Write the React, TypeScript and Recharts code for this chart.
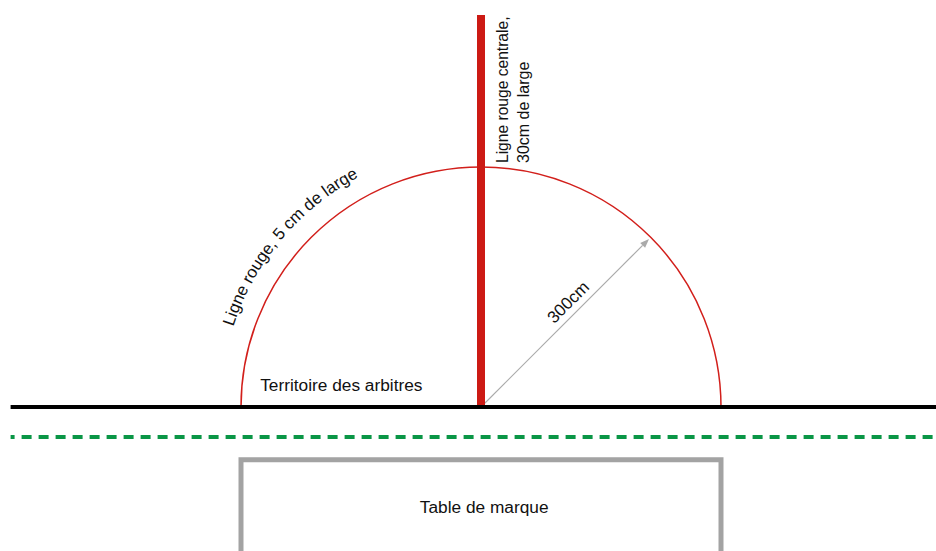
import React from "react";
import {
  ComposedChart,
  Line,
  XAxis,
  YAxis,
  ReferenceLine,
  ReferenceDot,
} from "recharts";

// all values in cm, origin = foot of the centre line
const sideline = [
  { x: -588, y: 0 },
  { x: 569, y: 0 },
];
const dashedLine = [
  { x: -588, y: -37.5 },
  { x: 569, y: -37.5 },
];
const tableOutline = [
  { x: -300, y: -240 },
  { x: -300, y: -66 },
  { x: 300, y: -66 },
  { x: 300, y: -240 },
];
const centreLine = [
  { x: 0, y: 0 },
  { x: 0, y: 490 },
];
const radius = 300;
const arrowEnd = { x: 210, y: 210 };

const labels = [
  { x: 34, y: 305, text: "Ligne rouge centrale,", angle: -90, anchor: "start", size: 15.6 },
  { x: 60, y: 305, text: "30cm de large", angle: -90, anchor: "start", size: 16 },
  { x: -276, y: 20, text: "Territoire des arbitres", angle: 0, anchor: "start", size: 17.3 },
  { x: 4, y: -132, text: "Table de marque", angle: 0, anchor: "middle", size: 17.3 },
  { x: 114, y: 126, text: "300cm", angle: -45, anchor: "middle", size: 17 },
];
const arcLabel = "Ligne rouge, 5 cm de large";

const FONT = "'Liberation Sans', Arial, Helvetica, sans-serif";

function SemiCircle(props: any) {
  const { x1, y1, x2 } = props;
  const r = (x2 - x1) / 2;
  const cx = x1 + r;
  const cy = y1;
  // text baseline sits a bit outside the arc
  const rt = r * 1.085;
  const a0 = (162 * Math.PI) / 180;
  const a1 = (45 * Math.PI) / 180;
  const sx = cx + rt * Math.cos(a0);
  const sy = cy - rt * Math.sin(a0);
  const ex = cx + rt * Math.cos(a1);
  const ey = cy - rt * Math.sin(a1);
  return (
    <g>
      <path
        d={`M ${x1} ${y1} A ${r} ${r} 0 0 1 ${x2} ${y1}`}
        fill="none"
        stroke="#d21f1b"
        strokeWidth={1.5}
      />
      <path
        id="arcText"
        d={`M ${sx} ${sy} A ${rt} ${rt} 0 0 1 ${ex} ${ey}`}
        fill="none"
        stroke="none"
      />
      <text fontFamily={FONT} fontSize={16.8} fill="#111">
        <textPath href="#arcText">{arcLabel}</textPath>
      </text>
    </g>
  );
}

function Arrow(props: any) {
  const { x1, y1, x2, y2 } = props;
  const ang = Math.atan2(y2 - y1, x2 - x1);
  const len = 9;
  const w = 3.5;
  const bx = x2 - len * Math.cos(ang);
  const by = y2 - len * Math.sin(ang);
  const px = -Math.sin(ang) * w;
  const py = Math.cos(ang) * w;
  return (
    <g>
      <line x1={x1} y1={y1} x2={bx} y2={by} stroke="#aaaaaa" strokeWidth={1.2} />
      <polygon
        points={`${x2},${y2} ${bx + px},${by + py} ${bx - px},${by - py}`}
        fill="#aaaaaa"
      />
    </g>
  );
}

export default function App() {
  return (
    <div style={{ position: "absolute", left: 0, top: 0, background: "#fff" }}>
      <ComposedChart
        width={936}
        height={551}
        margin={{ top: 0, right: 0, bottom: 0, left: 0 }}
      >
        <XAxis
          type="number"
          dataKey="x"
          domain={[-601.25, 568.75]}
          allowDataOverflow
          hide
        />
        <YAxis
          type="number"
          dataKey="y"
          domain={[-180, 508.75]}
          allowDataOverflow
          hide
        />

        <Line
          data={tableOutline}
          dataKey="y"
          type="linear"
          stroke="#a3a3a3"
          strokeWidth={5}
          strokeLinejoin="miter"
          dot={false}
          activeDot={false}
          isAnimationActive={false}
        />
        <Line
          data={dashedLine}
          dataKey="y"
          type="linear"
          stroke="#0a9646"
          strokeWidth={4}
          strokeDasharray="4 7 10 7 10 7 10 7 10 7 10 7 10 7 10 7 10 7 10 7 10 7 10 7 10 7 10 7 10 7 10 7 10 7 10 7 10 7 10 7 10 7 10 7 10 7 10 7 10 7 10 7 10 7 10 7 10 7 10 7 10 7 10 7 10 7 10 7 10 7 10 7 10 7 10 7 10 7 10 7 10 7 10 7 10 7 10 7 10 7 10 7 10 7 10 7 10 7 10 7 10 7 10 7 10 7 10 7 10 7"
          dot={false}
          activeDot={false}
          isAnimationActive={false}
        />

        <ReferenceLine
          segment={[
            { x: -radius, y: 0 },
            { x: radius, y: 0 },
          ]}
          ifOverflow="visible"
          shape={SemiCircle}
        />
        <ReferenceLine
          segment={[{ x: 0, y: 0 }, arrowEnd]}
          ifOverflow="visible"
          shape={Arrow}
        />

        <Line
          data={centreLine}
          dataKey="y"
          type="linear"
          stroke="#cc1a14"
          strokeWidth={8}
          dot={false}
          activeDot={false}
          isAnimationActive={false}
        />
        <Line
          data={sideline}
          dataKey="y"
          type="linear"
          stroke="#000"
          strokeWidth={4}
          dot={false}
          activeDot={false}
          isAnimationActive={false}
        />

        {labels.map((l) => (
          <ReferenceDot
            key={l.text}
            x={l.x}
            y={l.y}
            r={0}
            ifOverflow="visible"
            shape={(p: any) => (
              <text
                x={p.cx}
                y={p.cy}
                transform={`rotate(${l.angle} ${p.cx} ${p.cy})`}
                textAnchor={l.anchor}
                fontFamily={FONT}
                fontSize={l.size}
                fill="#111"
              >
                {l.text}
              </text>
            )}
          />
        ))}
      </ComposedChart>
    </div>
  );
}
